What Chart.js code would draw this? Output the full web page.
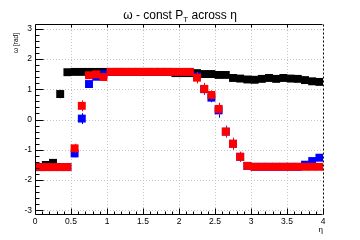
<!DOCTYPE html>
<html><head><meta charset="utf-8">
<script src="https://cdn.jsdelivr.net/npm/chart.js@4.4.0/dist/chart.umd.min.js"></script>
<style>html,body{margin:0;padding:0;background:#fff}canvas{display:block}</style>
</head><body>
<canvas id="c" width="360" height="240"></canvas>
<script>
const eta = [0.05,0.15,0.25,0.35,0.45,0.55,0.65,0.75,0.85,0.95,1.05,1.15,1.25,1.35,1.45,1.55,1.65,1.75,1.85,1.95,2.05,2.15,2.25,2.35,2.45,2.55,2.65,2.75,2.85,2.95,3.05,3.15,3.25,3.35,3.45,3.55,3.65,3.75,3.85,3.95];
const omegaRed = [-1.57,-1.57,-1.57,-1.57,-1.57,-0.95,0.45,1.46,1.49,1.40,1.57,1.57,1.57,1.57,1.57,1.57,1.57,1.57,1.57,1.57,1.57,1.57,1.38,1.01,0.81,0.35,-0.40,-0.80,-1.23,-1.53,-1.56,-1.56,-1.56,-1.56,-1.56,-1.56,-1.56,-1.56,-1.56,-1.56];
const omegaBlue = [-1.57,-1.57,-1.57,-1.57,-1.57,-1.12,0.03,1.17,1.41,1.49,1.57,1.57,1.57,1.57,1.57,1.57,1.57,1.57,1.57,1.57,1.57,1.57,1.42,1.00,0.72,0.30,-0.40,-0.80,-1.23,-1.53,-1.56,-1.56,-1.56,-1.56,-1.56,-1.56,-1.56,-1.49,-1.37,-1.26];
const omegaBlack = [-1.57,-1.50,-1.43,0.84,1.56,1.57,1.57,1.57,1.57,1.57,1.57,1.57,1.57,1.57,1.57,1.57,1.57,1.57,1.57,1.53,1.53,1.53,1.53,1.50,1.50,1.47,1.47,1.37,1.35,1.32,1.31,1.34,1.37,1.34,1.37,1.35,1.34,1.30,1.26,1.24];
const errRed = [0,0,0,0,0,0.15,0.18,0,0,0,0,0,0,0,0,0,0,0,0,0,0,0,0.19,0.2,0.15,0.2,0.2,0.2,0.17,0,0,0,0,0,0,0,0,0,0,0];
const errBlue = [0,0,0,0,0,0.12,0.18,0,0,0,0,0,0,0,0,0,0,0,0,0,0,0,0,0,0.15,0.24,0,0,0,0,0,0,0,0,0,0,0,0,0,0];
const errBlack = [0,0,0,0.14,0,0,0,0,0,0,0,0,0,0,0,0,0,0,0,0,0,0,0,0,0,0,0,0,0,0,0,0,0,0,0,0,0,0,0,0];
const xTicks = [0,0.5,1,1.5,2,2.5,3,3.5,4];
const yTicks = [-3,-2,-1,0,1,2,3];
const FONT = "'Liberation Sans', Arial, sans-serif";

function pts(ys){ return eta.map((x,i)=>({x:x,y:ys[i]})); }
const errs = [errRed, errBlue, errBlack];

const decor = {
  id:'decor',
  beforeDatasetsDraw(chart){
    const {ctx, chartArea:a, scales:{x,y}} = chart;
    ctx.save();
    ctx.strokeStyle = '#c4c4c4'; ctx.lineWidth = 1; ctx.setLineDash([1,2]);
    xTicks.forEach(v=>{ if(v<=0||v>=4) return; const px=Math.round(x.getPixelForValue(v))+0.5;
      ctx.beginPath(); ctx.moveTo(px,a.top); ctx.lineTo(px,a.bottom); ctx.stroke(); });
    yTicks.forEach(v=>{ const py=Math.round(y.getPixelForValue(v))+0.5;
      ctx.beginPath(); ctx.moveTo(a.left,py); ctx.lineTo(a.right,py); ctx.stroke(); });
    ctx.restore();
  },
  beforeDatasetDraw(chart, args){
    const e = errs[args.index]; if(!e) return;
    const {ctx, scales:{x,y}} = chart;
    const ds = chart.data.datasets[args.index];
    ctx.save(); ctx.strokeStyle = ds.backgroundColor; ctx.lineWidth = 1;
    ds.data.forEach((p,i)=>{ if(!e[i]) return;
      const px = Math.round(x.getPixelForValue(p.x))+0.5;
      ctx.beginPath(); ctx.moveTo(px, y.getPixelForValue(p.y+e[i])); ctx.lineTo(px, y.getPixelForValue(p.y-e[i])); ctx.stroke(); });
    ctx.restore();
  },
  afterDatasetsDraw(chart){
    const {ctx, chartArea:a, scales:{x,y}} = chart;
    ctx.save();
    ctx.strokeStyle = '#000'; ctx.lineWidth = 1;
    const L = a.left+0.5, R = a.right-0.5, T = a.top+0.5, B = a.bottom-0.5;
    ctx.beginPath(); ctx.moveTo(L,T); ctx.lineTo(R,T); ctx.moveTo(L,T); ctx.lineTo(L,B); ctx.lineTo(R,B); ctx.stroke();
    ctx.setLineDash([2,2]); ctx.beginPath(); ctx.moveTo(R+1,T); ctx.lineTo(R+1,B); ctx.stroke(); ctx.setLineDash([]);
    ctx.beginPath();
    for(let k=0;k<=40;k++){ const v=k*0.1; const px=Math.round(x.getPixelForValue(v))+0.5;
      const len = (k%5===0)?6:3; ctx.moveTo(px,B); ctx.lineTo(px,B-len);
      if(k%5===0 && k>0 && k<40){ ctx.moveTo(px,T); ctx.lineTo(px,T+3); } }
    for(let k=-15;k<=15;k++){ const v=k*0.2; if(v<y.min||v>y.max) continue;
      const py=Math.round(y.getPixelForValue(v))+0.5; const len=(k%5===0)?8:4;
      ctx.moveTo(L,py); ctx.lineTo(L+len,py); }
    ctx.stroke();
    ctx.restore();
  },
  afterDraw(chart){
    const ctx = chart.ctx;
    ctx.save(); ctx.fillStyle='#000'; ctx.textBaseline='alphabetic';
    const p1='\u03c9 - const P', sub='T', p2=' across \u03b7';
    ctx.font = '12px '+FONT; const w1=ctx.measureText(p1).width, w3=ctx.measureText(p2).width;
    ctx.font = '8px '+FONT; const w2=ctx.measureText(sub).width;
    let sx = 180 - (w1+w2+w3)/2;
    ctx.font='12px '+FONT; ctx.textAlign='left'; ctx.fillText(p1,sx,18.5);
    ctx.font='8px '+FONT; ctx.fillText(sub,sx+w1,21.5);
    ctx.font='12px '+FONT; ctx.fillText(p2,sx+w1+w2,18.5);
    ctx.font='8px '+FONT; ctx.textAlign='right'; ctx.fillText('\u03b7',323,232);
    ctx.translate(18,33); ctx.rotate(-Math.PI/2); ctx.font='6.5px '+FONT; ctx.textAlign='right';
    ctx.fillText('\u03c9 [rad]',0,0);
    ctx.restore();
  }
};

new Chart(document.getElementById('c'), {
  type:'scatter',
  data:{ datasets:[
    {data:pts(omegaRed), backgroundColor:'#ff0000', borderWidth:0, pointStyle:'rect', pointRadius:5.6, pointHoverRadius:5.6},
    {data:pts(omegaBlue), backgroundColor:'#0000ff', borderWidth:0, pointStyle:'rect', pointRadius:5.6, pointHoverRadius:5.6},
    {data:pts(omegaBlack), backgroundColor:'#000000', borderWidth:0, pointStyle:'rect', pointRadius:5.6, pointHoverRadius:5.6}
  ]},
  options:{
    responsive:false, animation:false, devicePixelRatio:1,
    layout:{padding:{top:24,right:37,left:0,bottom:0}},
    plugins:{legend:{display:false}, tooltip:{enabled:false}, title:{display:false}},
    scales:{
      x:{type:'linear', min:0, max:4,
        afterBuildTicks:s=>{s.ticks = xTicks.map(v=>({value:v}));},
        afterFit:s=>{s.height=25;},
        grid:{display:false, drawTicks:false, tickLength:0}, border:{display:false},
        ticks:{color:'#000', font:{family:FONT,size:8.5}, padding:2, maxRotation:0, autoSkip:false, callback:v=>String(v)}},
      y:{type:'linear', min:-3.15, max:3.15,
        afterBuildTicks:s=>{s.ticks = yTicks.map(v=>({value:v}));},
        afterFit:s=>{s.width=35;},
        grid:{display:false, drawTicks:false, tickLength:0}, border:{display:false},
        ticks:{color:'#000', font:{family:FONT,size:8.5}, padding:3, autoSkip:false, callback:v=>String(v)}}
    }
  },
  plugins:[decor]
});
</script>
</body></html>
